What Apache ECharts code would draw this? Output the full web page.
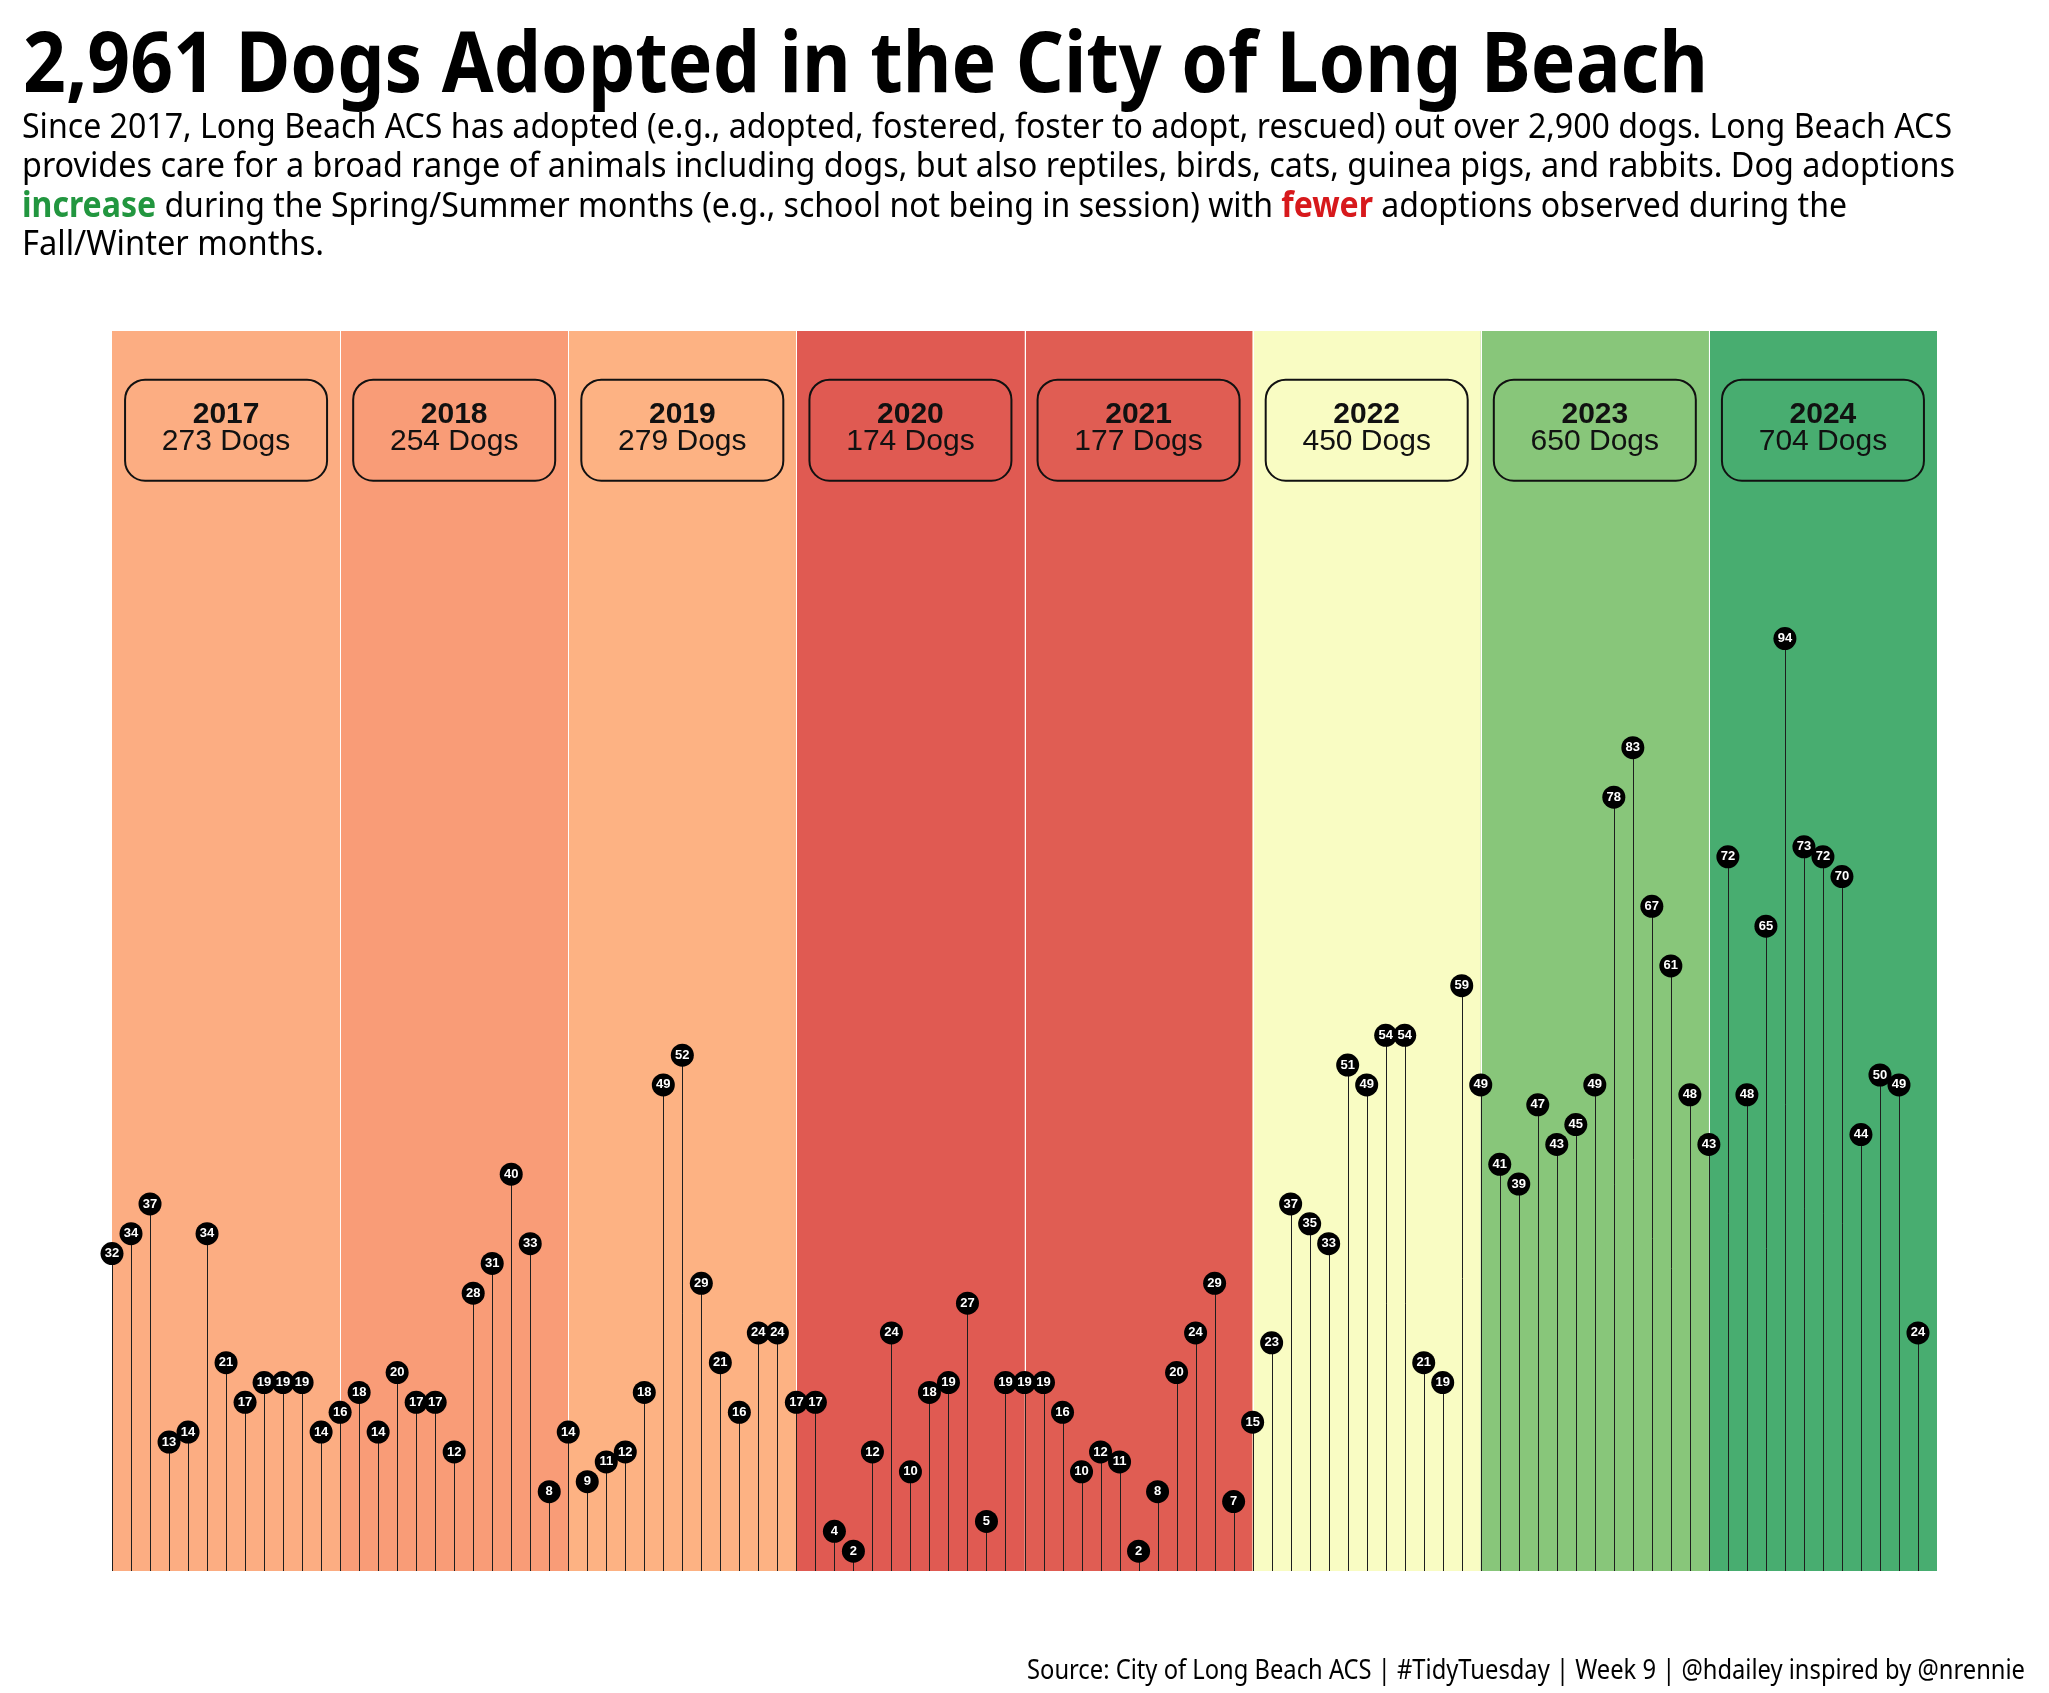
<!DOCTYPE html>
<html>
<head>
<meta charset="utf-8">
<script src="https://cdn.jsdelivr.net/npm/echarts@6/dist/echarts.min.js"></script>
<style>
html,body{margin:0;padding:0;background:#fff;}
#chart{width:2049px;height:1693px;}
</style>
</head>
<body>
<div id="chart"></div>
<script>
// ---------------- DATA ----------------
const years = ['2017', '2018', '2019', '2020', '2021', '2022', '2023', '2024'];
const yearTotals = [273, 254, 279, 174, 177, 450, 650, 704];
const dogs2017 = [32, 34, 37, 13, 14, 34, 21, 17, 19, 19, 19, 14];
const dogs2018 = [16, 18, 14, 20, 17, 17, 12, 28, 31, 40, 33, 8];
const dogs2019 = [14, 9, 11, 12, 18, 49, 52, 29, 21, 16, 24, 24];
const dogs2020 = [17, 17, 4, 2, 12, 24, 10, 18, 19, 27, 5, 19];
const dogs2021 = [19, 19, 16, 10, 12, 11, 2, 8, 20, 24, 29, 7];
const dogs2022 = [15, 23, 37, 35, 33, 51, 49, 54, 54, 21, 19, 59];
const dogs2023 = [49, 41, 39, 47, 43, 45, 49, 78, 83, 67, 61, 48];
const dogs2024 = [43, 72, 48, 65, 94, 73, 72, 70, 44, 50, 49, 24];

const titleText = '2,961 Dogs Adopted in the City of Long Beach';
const captionText = 'Source: City of Long Beach ACS | #TidyTuesday | Week 9 | @hdailey inspired by @nrennie';

// ---------------- STYLE ----------------
const bandColors = ['#FCAD82', '#F99C77', '#FDB283', '#E05A52', '#E05D53', '#F9FCC3', '#88C67A', '#48AD70'];
const GREEN = '#22963F', RED = '#D7191C';

const monthly = [dogs2017, dogs2018, dogs2019, dogs2020, dogs2021, dogs2022, dogs2023, dogs2024];
const points = [];
monthly.forEach((arr, y) => arr.forEach((v, m) => points.push([y * 12 + m, v])));
const yearBands = years.map((yr, i) => [i * 12, (i + 1) * 12, i]);
const BOX_Y = 115;
const yearBoxes = years.map((yr, i) => [i * 12 + 6, BOX_Y, yr, yearTotals[i]]);

// ---------------- TEXT HELPERS ----------------
const ctx = document.createElement('canvas').getContext('2d');
function fontStr(weight, size, family) { return weight + ' ' + size + 'px ' + family; }
function midOffset(font) {
  ctx.font = font;
  ctx.textBaseline = 'alphabetic';
  const a = ctx.measureText('H').actualBoundingBoxAscent;
  ctx.textBaseline = 'middle';
  const b = ctx.measureText('H').actualBoundingBoxAscent;
  ctx.textBaseline = 'alphabetic';
  return a - b;
}
function textLine(segs, x0, baseline, size, family, targetW, alignRight) {
  let widths = segs.map(s => { ctx.font = fontStr(s.bold ? 'bold' : 'normal', size, family); return ctx.measureText(s.t).width; });
  const W = widths.reduce((a, b) => a + b, 0);
  const sc = targetW / W;
  const start = alignRight ? x0 - targetW : x0;
  const off = midOffset(fontStr('normal', size, family));
  const els = [];
  let cum = 0;
  segs.forEach((s, i) => {
    els.push({
      type: 'text', silent: true,
      x: start + cum * sc, y: baseline - off, scaleX: sc, scaleY: 1,
      style: {
        text: s.t, fontSize: size, fontFamily: family,
        fontWeight: s.bold ? 'bold' : 'normal',
        fill: s.c || '#000', align: 'left', verticalAlign: 'middle'
      }
    });
    cum += widths[i];
  });
  return els;
}

const SUB_FONT = '"Noto Sans", sans-serif';
const graphics = [].concat(
  textLine([{ t: titleText, bold: true }], 23, 92, 84, '"Noto Sans", sans-serif', 1685),
  textLine([{ t: 'Since 2017, Long Beach ACS has adopted (e.g., adopted, fostered, foster to adopt, rescued) out over 2,900 dogs. Long Beach ACS' }], 22, 138, 35, SUB_FONT, 1930),
  textLine([{ t: 'provides care for a broad range of animals including dogs, but also reptiles, birds, cats, guinea pigs, and rabbits. Dog adoptions' }], 22, 177, 35, SUB_FONT, 1933),
  textLine([
    { t: 'increase', bold: true, c: GREEN },
    { t: ' during the Spring/Summer months (e.g., school not being in session) with ' },
    { t: 'fewer', bold: true, c: RED },
    { t: ' adoptions observed during the' }
  ], 22, 217, 35, SUB_FONT, 1825),
  textLine([{ t: 'Fall/Winter months.' }], 22, 255, 35, SUB_FONT, 302),
  textLine([{ t: captionText }], 2025, 1679, 27, SUB_FONT, 998, true)
);

// ---------------- CHART ----------------
const chart = echarts.init(document.getElementById('chart'), null, { renderer: 'canvas' });
const option = {
  backgroundColor: '#ffffff',
  animation: false,
  grid: { left: 112, right: 112, top: 331, bottom: 122, containLabel: false },
  xAxis: { type: 'value', min: 0, max: 96, show: false },
  yAxis: { type: 'value', min: 0, max: 125, show: false },
  graphic: { elements: graphics },
  series: [
    {
      type: 'custom', name: 'bands', silent: true, z: 1, clip: false,
      data: yearBands,
      renderItem: function (params, api) {
        const p0 = api.coord([api.value(0), 125]);
        const p1 = api.coord([api.value(1), 0]);
        const idx = api.value(2);
        const children = [{
          type: 'rect',
          shape: { x: p0[0], y: p0[1], width: p1[0] - p0[0], height: p1[1] - p0[1] },
          style: { fill: bandColors[idx] }
        }];
        if (idx > 0) {
          children.push({
            type: 'line',
            shape: { x1: Math.round(p0[0]) + 0.5, y1: p0[1], x2: Math.round(p0[0]) + 0.5, y2: p1[1] },
            style: { stroke: '#ffffff', lineWidth: 1 }
          });
        }
        return { type: 'group', children: children };
      }
    },
    {
      type: 'custom', name: 'stems', silent: true, z: 2, clip: false,
      data: points,
      renderItem: function (params, api) {
        const a = api.coord([api.value(0), 0]);
        const b = api.coord([api.value(0), api.value(1)]);
        const x = Math.round(a[0]) + 0.5;
        return {
          type: 'line',
          shape: { x1: x, y1: a[1], x2: x, y2: b[1] },
          style: { stroke: '#1e1e1e', lineWidth: 1 }
        };
      }
    },
    {
      type: 'scatter', name: 'dogs', z: 3, clip: false,
      data: points,
      symbol: 'circle', symbolSize: 23,
      itemStyle: { color: '#000000', opacity: 1 },
      label: {
        show: true, position: 'inside',
        formatter: p => String(p.value[1]),
        color: '#ffffff', fontWeight: 'bold', fontSize: 13,
        fontFamily: '"Liberation Sans", Arial, sans-serif'
      }
    },
    {
      type: 'custom', name: 'years', silent: true, z: 4, clip: false,
      data: yearBoxes,
      renderItem: function (params, api) {
        const c = api.coord([api.value(0), api.value(1)]);
        const w = 202, h = 101;
        return {
          type: 'group',
          children: [
            {
              type: 'rect',
              shape: { x: c[0] - w / 2, y: c[1] - h / 2, width: w, height: h, r: 20 },
              style: { fill: 'rgba(0,0,0,0)', stroke: '#111', lineWidth: 2 }
            },
            {
              type: 'text',
              style: {
                text: years[params.dataIndex], x: c[0], y: c[1] - 15,
                fontSize: 30, fontWeight: 'bold', fontFamily: '"Liberation Sans", Arial, sans-serif',
                fill: '#111', align: 'center', verticalAlign: 'middle'
              }
            },
            {
              type: 'text',
              style: {
                text: yearTotals[params.dataIndex] + ' Dogs', x: c[0], y: c[1] + 12,
                fontSize: 30, fontWeight: 'normal', fontFamily: '"Liberation Sans", Arial, sans-serif',
                fill: '#111', align: 'center', verticalAlign: 'middle'
              }
            }
          ]
        };
      }
    }
  ]
};
chart.setOption(option);
</script>
</body>
</html>
